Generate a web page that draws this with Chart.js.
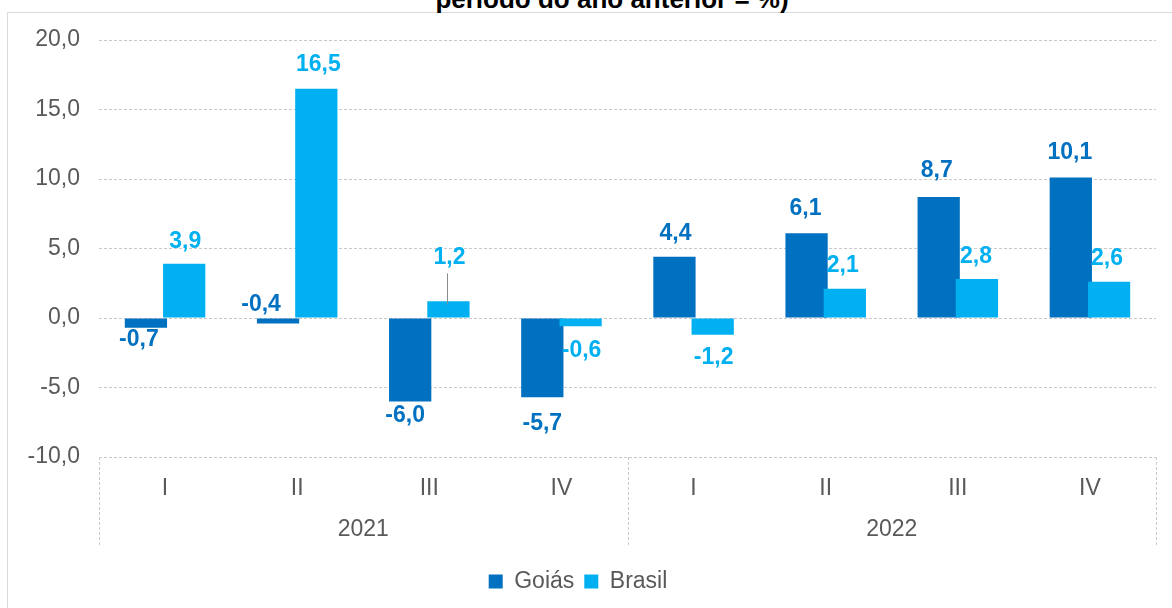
<!DOCTYPE html>
<html>
<head>
<meta charset="utf-8">
<script src="https://cdn.jsdelivr.net/npm/chart.js@4.4.1/dist/chart.umd.min.js"></script>
<style>
  html, body { margin: 0; padding: 0; background: #fff; overflow: hidden; }
  #wrap { position: relative; width: 1172px; height: 608px; overflow: hidden; }
  #frame { position: absolute; left: 7px; top: 12px; width: 1170px; height: 620px; border: 1px solid #d9d9d9; box-sizing: border-box; }
  #title { position: absolute; left: 26px; width: 1172px; top: -14px; text-align: center;
           font: bold 26px "Liberation Sans", Arial, sans-serif; line-height: 26px; color: #000; white-space: nowrap; }
  canvas { position: absolute; left: 0; top: 0; }
</style>
</head>
<body>
<div id="wrap">
  <div id="frame"></div>
  <div id="title">período do ano anterior = %)</div>
  <canvas id="pibChart" width="1172" height="608"></canvas>
</div>
<script>
// ---- data ----
const quarters = ['I', 'II', 'III', 'IV', 'I', 'II', 'III', 'IV'];
const years = ['2021', '2022'];
const goias = [-0.7, -0.4, -6.0, -5.7, 4.4, 6.1, 8.7, 10.1];
const brasil = [3.9, 16.5, 1.2, -0.6, -1.2, 2.1, 2.8, 2.6];
const yMin = -10;
const yMax = 20;
const yStep = 5;

// label nudges [dx, dy] from the bar tip, as placed in the original
const goiasLabelShift = [[-7, 12], [-17, -19], [-5, 14], [0, 26], [1, -23], [-1, -25], [-2, -26], [-1, -25]];
const brasilLabelShift = [[1, -22], [2, -24], [1, -44], [1, 24], [1, 23], [-2, -23], [-1, -22], [-2, -23]];
const brasilLeaders = [2];

const FONT = '"Liberation Sans", Arial, sans-serif';
const fmt = v => v.toFixed(1).replace('.', ',');

// draw Brasil after Goiás so it sits on top where the bars overlap
const drawOrder = {
    id: 'drawOrder',
    beforeDatasetDraw(chart, args) {
        if (args.index === 1 && !chart._brasilNow) return false;
    },
    afterDatasetDraw(chart, args) {
        if (args.index === 0) {
            chart._brasilNow = true;
            chart.getDatasetMeta(1).controller.draw();
            chart._brasilNow = false;
        }
    }
};

// value labels over/under each bar
const valueLabels = {
    id: 'valueLabels',
    afterDatasetsDraw(chart) {
        const ctx = chart.ctx;
        ctx.save();
        ctx.font = 'bold 23px ' + FONT;
        ctx.textAlign = 'center';
        ctx.textBaseline = 'middle';
        chart.data.datasets.forEach((ds, di) => {
            const meta = chart.getDatasetMeta(di);
            meta.data.forEach((bar, i) => {
                const [dx, dy] = ds.labelShift[i];
                const x = bar.x + dx;
                const y = bar.y + dy;
                if (ds.leaders && ds.leaders.includes(i)) {
                    ctx.strokeStyle = '#8c8c8c';
                    ctx.lineWidth = 1;
                    ctx.beginPath();
                    ctx.moveTo(Math.round(bar.x) - 0.5, y + 16);
                    ctx.lineTo(Math.round(bar.x) - 0.5, bar.y + 3);
                    ctx.stroke();
                }
                ctx.fillStyle = ds.labelColor;
                ctx.fillText(fmt(ds.data[i]), x, y);
            });
        });
        ctx.restore();
    }
};

// box around the two-level category axis
const categoryBox = {
    id: 'categoryBox',
    afterDraw(chart) {
        const ctx = chart.ctx;
        const xs = chart.scales.x;
        const top = chart.chartArea.bottom;
        const bottom = top + 89;
        const mid = (xs.getPixelForValue(3) + xs.getPixelForValue(4)) / 2;
        ctx.save();
        ctx.strokeStyle = '#c9c9c9';
        ctx.lineWidth = 1;
        ctx.setLineDash([3, 2]);
        [xs.left, mid, xs.right].forEach(px => {
            const x = Math.round(px) + 0.5;
            ctx.beginPath();
            ctx.moveTo(x, top);
            ctx.lineTo(x, bottom);
            ctx.stroke();
        });
        ctx.restore();
    }
};

const ctx = document.getElementById('pibChart').getContext('2d');
new Chart(ctx, {
    type: 'bar',
    data: {
        labels: quarters,
        datasets: [
            {
                label: 'Goiás',
                data: goias,
                backgroundColor: '#0070C0',
                labelColor: '#0070C0',
                labelShift: goiasLabelShift,
                categoryPercentage: 0.579,
                barPercentage: 1.105
            },
            {
                label: 'Brasil',
                data: brasil,
                backgroundColor: '#00B0F0',
                labelColor: '#00B0F0',
                labelShift: brasilLabelShift,
                leaders: brasilLeaders,
                categoryPercentage: 0.579,
                barPercentage: 1.105
            }
        ]
    },
    options: {
        responsive: false,
        animation: false,
        layout: { padding: { top: 40, right: 16, left: 0, bottom: 5 } },
        scales: {
            y: {
                min: yMin,
                max: yMax,
                afterFit(scale) { scale.width = 99; },
                ticks: {
                    stepSize: yStep,
                    padding: 19,
                    color: '#595959',
                    font: { family: FONT, size: 23 },
                    callback: v => fmt(v)
                },
                grid: { color: '#c9c9c9', drawTicks: false },
                border: { display: false, dash: [3, 2] }
            },
            x: {
                weight: 0,
                afterFit(scale) { scale.height = 45; },
                grid: { display: false },
                border: { display: false },
                ticks: {
                    padding: 10,
                    color: '#595959',
                    font: { family: FONT, size: 23 }
                }
            },
            x2: {
                type: 'category',
                position: 'bottom',
                labels: years,
                offset: true,
                weight: 1,
                afterFit(scale) { scale.height = 58; },
                grid: { display: false },
                border: { display: false },
                ticks: {
                    padding: 6,
                    color: '#595959',
                    font: { family: FONT, size: 23 }
                }
            }
        },
        plugins: {
            legend: {
                position: 'bottom',
                labels: {
                    boxWidth: 14,
                    boxHeight: 14,
                    padding: 10,
                    color: '#595959',
                    font: { family: FONT, size: 23 }
                }
            },
            tooltip: { enabled: false },
            title: { display: false }
        }
    },
    plugins: [drawOrder, valueLabels, categoryBox]
});
</script>
</body>
</html>
